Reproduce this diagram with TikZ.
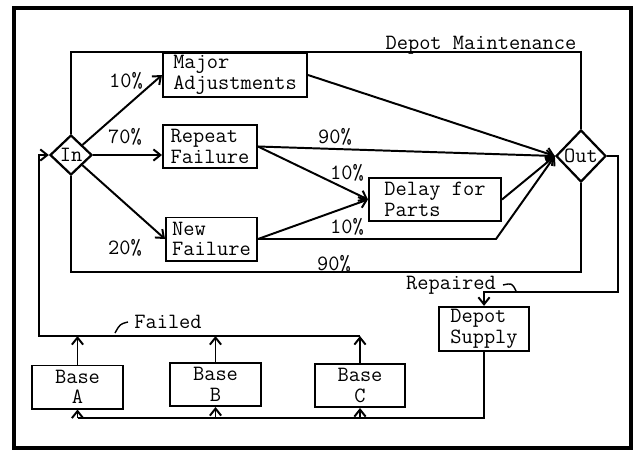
\documentclass[tikz,border=0pt]{standalone}
\usepackage{tikz}
\usetikzlibrary{arrows.meta}
\usetikzlibrary{shapes.geometric}
\newcommand{\diagfont}{\fontsize{15.5}{14.5}\selectfont\ttfamily}
\tikzset{
	mybox/.style={draw, line width=1.4pt, align=left, inner sep=2pt, minimum height=1.075cm, font=\diagfont},
	mybase/.style={mybox, align=center},
	mydiamond/.style={draw, diamond, line width=1.6pt, inner sep=0pt, font=\diagfont},
	mylabel/.style={inner sep=0pt, font=\diagfont},
	myarrow/.style={-{Straight Barb[length=5pt, width=8pt]}},
	myleader/.style={line width=1pt}
}

\begin{document}
\begin{tikzpicture}[x=0.025cm, y=-0.025cm, line width=1.4pt]
	\useasboundingbox (0,0) rectangle (636,450);
	\draw[line width=2.2pt] (14,8) rectangle (631,448);
	\node[mydiamond, minimum width=1.05cm, minimum height=1cm] (in) at (71,155) {In};
	\node[mydiamond, minimum width=1.25cm, minimum height=1.3cm] (out) at (581,156) {Out};
	\node[mybox, minimum width=3.6cm] (ma) at (235,75) {Major\\Adjustments};
	\node[mybox, minimum width=2.35cm] (rf) at (210,146.5) {Repeat\\Failure};
	\node[mybox, minimum width=2.275cm] (nf) at (211.5,239) {New\\Failure};
	\node[mybox, minimum width=3.3cm] (dp) at (435,199.5) {Delay for\\Parts};
	\node[mybox, minimum width=2.25cm] (ds) at (484,329) {Depot\\Supply};
	\node[mybase, minimum width=2.275cm] (ba) at (77.5,387) {Base\\A};
	\node[mybase, minimum width=2.275cm] (bb) at (215.5,384.5) {Base\\B};
	\node[mybase, minimum width=2.25cm] (bc) at (360,385.5) {Base\\C};

	\draw[myarrow] (in) -- (ma.west);
	\draw[myarrow] (in.east) -- (in.east -| rf.west);
	\draw[myarrow] (in) -- (nf.west);
	\draw[myarrow] (ma.east) -- (out.west);
	\draw[myarrow] (rf.east) -- (out.west);
	\draw[myarrow] (rf.east) -- (dp.west);
	\draw[myarrow] (nf.east) -- (dp.west);
	\coordinate (nfturn) at (496,0);
	\draw[myarrow] (nf.east) -- (nf.east -| nfturn) -- (out.west);
	\draw[myarrow] (dp.east) -- (out.west);
	\coordinate (dmtop) at (0,52);
	\draw (in.north) -- (in.north |- dmtop) -| (out.north);
	\coordinate (dmbot) at (0,272);
	\draw (in.south) -- (in.south |- dmbot) -| (out.south);

	\node[mylabel, anchor=base] (dmlabel) at (481,49) {Depot Maintenance};
	\node[mylabel] (pma) at (126,81) {10\%};
	\node[mylabel] (prf) at (125,137) {70\%};
	\node[mylabel] (pnf) at (125,248) {20\%};
	\node[mylabel] (prfout) at (335,137) {90\%};
	\node[mylabel] (prfdp) at (347,173) {10\%};
	\node[mylabel] (pnfout) at (347,227) {10\%};
	\node[mylabel] (pbot) at (334,264) {90\%};

	\coordinate (rep) at (618,292);
	\draw[myarrow] (out.east) -| (rep) -| (ds.north);
	\node[mylabel, anchor=base] (repaired) at (451,289) {Repaired};
	\draw[myleader] (503,285) .. controls (512,283) .. (516,291);

	\coordinate (fail) at (39,336);
	\draw[myarrow] (bc.north |- fail) -- (fail) |- (in.west);
	\foreach \b in {ba, bb, bc}
		\draw[myarrow] (\b.north) -- (\b.north |- fail);
	\node[mylabel, anchor=base] (failed) at (168,328) {Failed};
	\draw[myleader] (128,322) .. controls (120,324) .. (115,333);

	\coordinate (sup) at (0,418);
	\draw (ds.south) |- (ba.south |- sup);
	\foreach \b in {ba, bb, bc}
		\draw[myarrow] (\b.south |- sup) -- (\b.south);
\end{tikzpicture}
\end{document}
